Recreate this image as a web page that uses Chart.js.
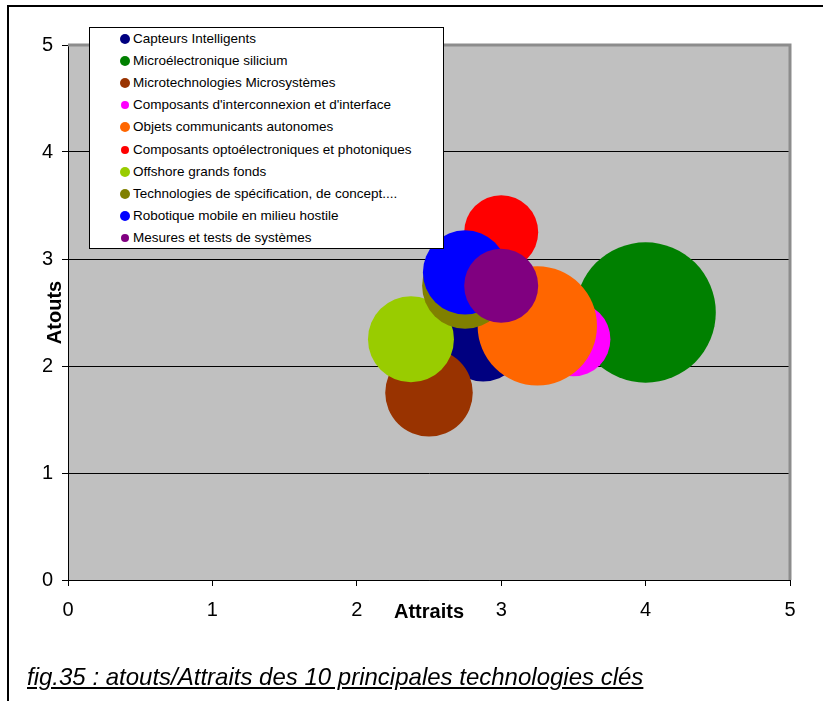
<!DOCTYPE html>
<html>
<head>
<meta charset="utf-8">
<script src="https://cdn.jsdelivr.net/npm/chart.js@4.4.1/dist/chart.umd.min.js"></script>
<style>
  body { margin: 0; background: #fff; font-family: "Liberation Sans", Arial, sans-serif; }
  #wrap { position: relative; width: 823px; height: 701px; overflow: hidden; }
  #c { position: absolute; left: 0; top: 0; }
  #frame { position: absolute; left: 7px; top: 5px; width: 900px; height: 800px;
           border-left: 2px solid #000; border-top: 2px solid #000; }
  #legend { position: absolute; left: 89px; top: 27px; width: 353px; height: 220px;
            background: #fff; border: 1px solid #000; }
  #legend div { position: absolute; left: 43px; font-size: 13.5px; line-height: 16px; white-space: nowrap; color: #000; }
  #legend span { position: absolute; left: -8px; top: 50%; border-radius: 50%; transform: translate(-50%, -50%); }
  #caption { position: absolute; left: 27px; top: 663px; font-size: 24px; font-style: italic;
             text-decoration: underline; white-space: nowrap; color: #000; }
</style>
</head>
<body>
<div id="wrap">
  <canvas id="c" width="823" height="701"></canvas>
  <div id="frame"></div>
  <div id="legend"></div>
  <div id="caption">fig.35 : atouts/Attraits des 10 principales technologies clés</div>
</div>
<script>
// technologies clés
const technologies = [
  "Capteurs Intelligents",
  "Microélectronique silicium",
  "Microtechnologies Microsystèmes",
  "Composants d'interconnexion et d'interface",
  "Objets communicants autonomes",
  "Composants optoélectroniques et photoniques",
  "Offshore grands fonds",
  "Technologies de spécification, de concept....",
  "Robotique mobile en milieu hostile",
  "Mesures et tests de systèmes"
];
const attraits = [2.875, 4, 2.5, 3.5, 3.25, 3, 2.375, 2.75, 2.75, 3];
const atouts   = [2.25, 2.5, 1.75, 2.25, 2.375, 3.25, 2.25, 2.75, 2.875, 2.75];
const poids    = [1.3, 3.6, 1.4, 1.0, 2.6, 1.0, 1.35, 1.35, 1.3, 1.0];
const couleurs = ["#000080", "#008000", "#993300", "#FF00FF", "#FF6600",
                  "#FF0000", "#99CC00", "#808000", "#0000FF", "#800080"];
const axisTicks = [0, 1, 2, 3, 4, 5];

// pas de marge auto pour les grosses bulles : la zone de tracé est fixée à la main
Chart.registry.getController('bubble').prototype.getMaxOverflow = function () { return false; };

// un dataset par technologie, le dernier dessiné au-dessus
const datasets = technologies.map((nom, i) => ({
  label: nom,
  data: [{ x: attraits[i], y: atouts[i], r: 37 * Math.sqrt(poids[i]) }],
  backgroundColor: couleurs[i],
  borderWidth: 0,
  hoverBorderWidth: 0,
  order: technologies.length - i
}));

// fond gris + cadre de la zone de tracé
const plotBg = {
  id: 'plotBg',
  beforeDraw(chart) {
    const a = chart.chartArea, ctx = chart.ctx;
    ctx.save();
    ctx.fillStyle = '#C0C0C0';
    ctx.fillRect(a.left, a.top, a.right - a.left, a.bottom - a.top);
    ctx.restore();
  },
  afterDraw(chart) {
    const a = chart.chartArea, ctx = chart.ctx;
    ctx.save();
    ctx.strokeStyle = '#8C8C8C';
    ctx.lineWidth = 3;
    ctx.beginPath();
    ctx.moveTo(a.left, a.top);
    ctx.lineTo(a.right, a.top);
    ctx.lineTo(a.right, a.bottom);
    ctx.stroke();
    // titres des axes
    ctx.fillStyle = '#000';
    ctx.font = 'bold 20px "Liberation Sans", Arial, sans-serif';
    ctx.textAlign = 'center';
    ctx.textBaseline = 'middle';
    ctx.fillText('Attraits', (a.left + a.right) / 2, 612);
    ctx.translate(55, (a.top + a.bottom) / 2);
    ctx.rotate(-Math.PI / 2);
    ctx.fillText('Atouts', 0, 0);
    ctx.restore();
  }
};

const tickFont = { family: '"Liberation Sans", Arial, sans-serif', size: 20 };

new Chart(document.getElementById('c'), {
  type: 'bubble',
  data: { datasets },
  options: {
    responsive: false,
    animation: false,
    layout: { padding: { top: 45, right: 33, left: 0, bottom: 0 } },
    plugins: { legend: { display: false }, tooltip: { enabled: false } },
    scales: {
      x: {
        type: 'linear', min: 0, max: 5,
        afterBuildTicks: s => { s.ticks = axisTicks.map(v => ({ value: v })); },
        afterFit: s => { s.height = 121; },
        ticks: { color: '#000', font: tickFont, padding: 12 },
        grid: { drawOnChartArea: false, color: '#000', tickLength: 6 },
        border: { color: '#000', width: 1 }
      },
      y: {
        type: 'linear', min: 0, max: 5,
        afterBuildTicks: s => { s.ticks = axisTicks.map(v => ({ value: v })); },
        afterFit: s => { s.width = 68; },
        ticks: { color: '#000', font: tickFont, padding: 9 },
        grid: { color: '#000', tickLength: 6 },
        border: { color: '#000', width: 1 }
      }
    }
  },
  plugins: [plotBg]
});

// légende
const leg = document.getElementById('legend');
technologies.forEach((nom, i) => {
  const row = document.createElement('div');
  row.style.top = (11.3 + i * 22.04 - 8) + 'px';
  row.textContent = nom;
  const dot = document.createElement('span');
  const d = poids[i] >= 1.3 ? 10 : 8;
  dot.style.width = d + 'px';
  dot.style.height = d + 'px';
  dot.style.background = couleurs[i];
  row.appendChild(dot);
  leg.appendChild(row);
});
</script>
</body>
</html>
